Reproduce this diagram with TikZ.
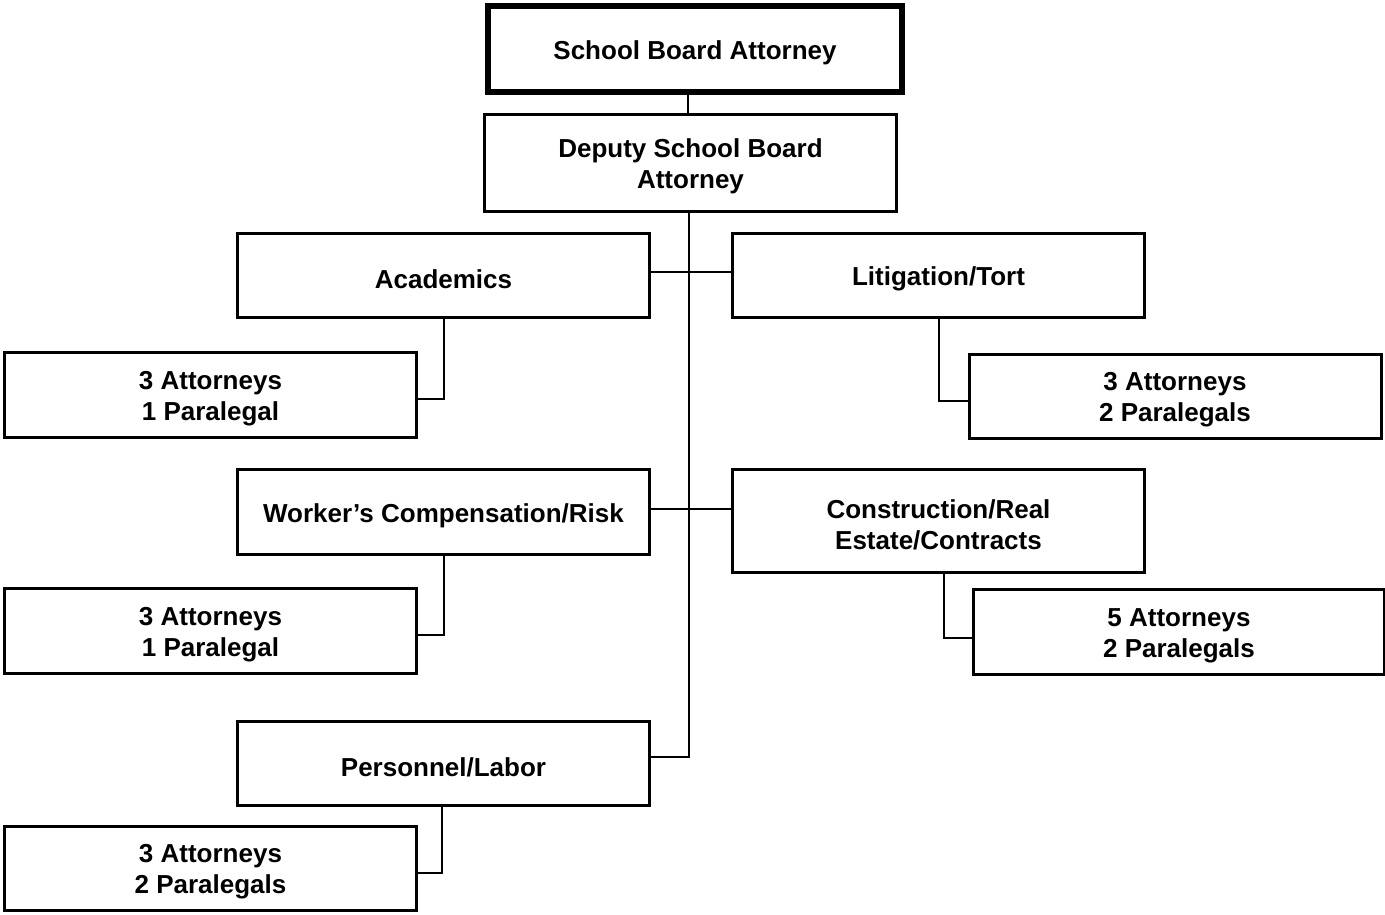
\documentclass[tikz,border=0pt]{standalone}
\usepackage{fontspec}
\setmainfont{Liberation Sans}
\begin{document}
\begin{tikzpicture}[x=1pt,y=-1pt,
  txt/.style={inner sep=0pt,align=center,yshift=-3.5pt,
    font=\fontsize{26}{31}\selectfont\bfseries},
  box/.style={draw=black,line width=3pt,rectangle,inner sep=0pt,minimum width=412pt},
  headbox/.style={box,line width=6pt},
  link/.style={draw=black,line width=2pt}]
\useasboundingbox[fill=white] (0,0) rectangle (1385,914);

% boxes, each with its caption centred inside
\node[headbox,minimum width=414pt,minimum height=86pt,label={[txt]center:School Board Attorney}] (top) at (695,49) {};
\node[box,minimum height=97pt,label={[txt]center:{Deputy School Board\\Attorney}}] (deputy) at (690.5,163) {};
\node[box,minimum height=84pt,label={[txt]center:Academics}] (acad) at (443.5,275.5) {};
\node[box,minimum height=84pt,label={[txt]center:Litigation/Tort}] (lit) at (938.5,275.5) {};
\node[box,minimum height=85pt,label={[txt]center:{3 Attorneys\\1 Paralegal}}] (acadS) at (210.5,395) {};
\node[box,minimum height=84pt,label={[txt]center:{3 Attorneys\\2 Paralegals}}] (litS) at (1175,396.5) {};
\node[box,minimum height=85pt,label={[txt]center:Worker’s Compensation/Risk}] (wc) at (443.5,512) {};
\node[box,minimum height=103pt,label={[txt]center:{Construction/Real\\Estate/Contracts}}] (con) at (938.5,521) {};
\node[box,minimum height=85pt,label={[txt]center:{3 Attorneys\\1 Paralegal}}] (wcS) at (210.5,631) {};
\node[box,minimum width=411pt,minimum height=85pt,label={[txt]center:{5 Attorneys\\2 Paralegals}}] (conS) at (1179,632) {};
\node[box,minimum height=84pt,label={[txt]center:Personnel/Labor}] (pers) at (443.5,763.5) {};
\node[box,minimum height=84pt,label={[txt]center:{3 Attorneys\\2 Paralegals}}] (persS) at (210.5,868.5) {};

% trunk
\coordinate (trunkEnd) at (689,757);
\draw[link] (top.south -| 688,0) -- (deputy.north -| 688,0);
\draw[link] (deputy.south -| trunkEnd) -- (trunkEnd) -- (pers.east |- trunkEnd);

% branches off the trunk
\draw[link] (acad.east |- 0,272) -- (lit.west |- 0,272);
\draw[link] (wc.east |- 0,509) -- (con.west |- 0,509);

% sections to their staff
\draw[link] (acad.south) |- ([yshift=-4pt]acadS.east);
\draw[link] (lit.south) |- ([yshift=-4.5pt]litS.west);
\draw[link] (wc.south) |- ([yshift=-4pt]wcS.east);
\draw[link] ([xshift=5.5pt]con.south) |- ([yshift=-6pt]conS.west);
\draw[link] ([xshift=-2pt]pers.south) |- ([yshift=-4.5pt]persS.east);
\end{tikzpicture}
\end{document}
